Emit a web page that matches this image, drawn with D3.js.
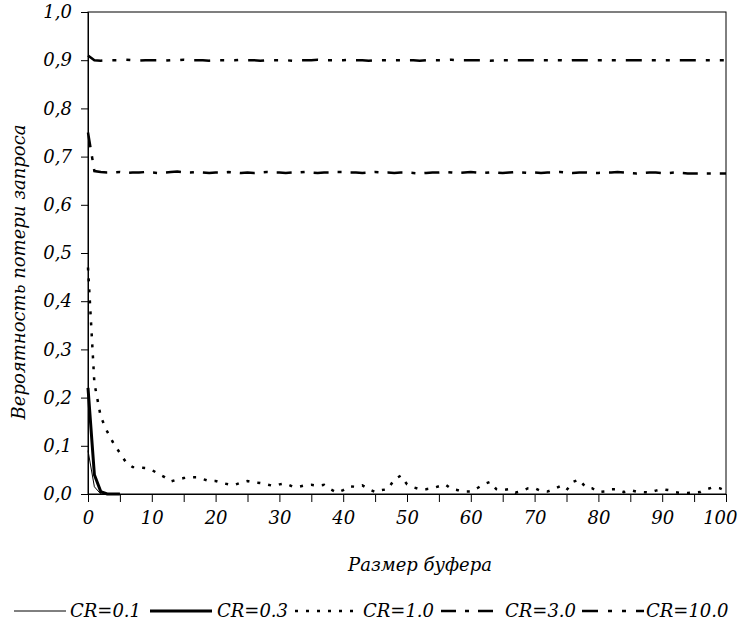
<!DOCTYPE html>
<html>
<head>
<meta charset="utf-8">
<script src="https://d3js.org/d3.v7.min.js"></script>
<style>
  body { margin: 0; background: #fff; }
  text { font-family: "DejaVu Serif", serif; font-style: italic; fill: #000; }
</style>
</head>
<body>
<div id="chart"></div>
<script>
// Buffer sizes on the x axis
var bufferSize = d3.range(0, 101);

// Loss probability per series
var cr01 = [0.09, 0.015, 0.0, 0.0, 0.0, 0.0];
var cr03 = [0.22, 0.04, 0.005, 0.0, 0.0, 0.0];
var cr10 = [0.47, 0.23, 0.16, 0.13, 0.105, 0.085, 0.065, 0.056, 0.055, 0.054,
  0.05, 0.042, 0.035, 0.026, 0.03, 0.033, 0.035, 0.035, 0.031, 0.027,
  0.027, 0.023, 0.02, 0.019, 0.024, 0.027, 0.024, 0.023, 0.02, 0.017,
  0.02, 0.022, 0.016, 0.015, 0.018, 0.019, 0.017, 0.019, 0.01, 0.003,
  0.008, 0.016, 0.015, 0.018, 0.01, 0.004, 0.008, 0.01, 0.03, 0.038,
  0.02, 0.014, 0.01, 0.01, 0.012, 0.016, 0.02, 0.01, 0.008, 0.005,
  0.005, 0.012, 0.02, 0.025, 0.01, 0.008, 0.01, 0.003, 0.006, 0.012,
  0.012, 0.006, 0.005, 0.01, 0.016, 0.008, 0.025, 0.03, 0.014, 0.012,
  0.004, 0.005, 0.01, 0.01, 0.004, 0.008, 0.005, 0.004, 0.003, 0.007,
  0.01, 0.008, 0.004, 0.002, 0.002, 0.003, 0.004, 0.01, 0.014, 0.012, 0.006];
var cr30 = [0.75, 0.67, 0.668, 0.667, 0.667, 0.668, 0.666, 0.667, 0.667, 0.668,
  0.667, 0.666, 0.667, 0.668, 0.669, 0.667, 0.667, 0.668, 0.667, 0.666,
  0.667, 0.667, 0.668, 0.667, 0.666, 0.667, 0.666, 0.667, 0.668, 0.667,
  0.667, 0.666, 0.667, 0.667, 0.668, 0.667, 0.666, 0.667, 0.667, 0.668,
  0.668, 0.667, 0.667, 0.666, 0.667, 0.668, 0.667, 0.667, 0.666, 0.667,
  0.667, 0.666, 0.665, 0.666, 0.667, 0.667, 0.668, 0.667, 0.666, 0.667,
  0.668, 0.667, 0.666, 0.667, 0.667, 0.666, 0.667, 0.668, 0.667, 0.666,
  0.667, 0.666, 0.667, 0.667, 0.668, 0.667, 0.666, 0.667, 0.667, 0.666,
  0.666, 0.667, 0.667, 0.668, 0.667, 0.666, 0.665, 0.666, 0.667, 0.667,
  0.666, 0.666, 0.667, 0.666, 0.665, 0.665, 0.665, 0.665, 0.665, 0.665, 0.665];
var cr100 = [0.91, 0.9, 0.899, 0.9, 0.9, 0.9, 0.901, 0.9, 0.899, 0.9,
  0.9, 0.9, 0.899, 0.9, 0.9, 0.901, 0.9, 0.9, 0.9, 0.899,
  0.9, 0.9, 0.9, 0.9, 0.901, 0.9, 0.9, 0.899, 0.9, 0.9,
  0.9, 0.9, 0.899, 0.9, 0.9, 0.9, 0.901, 0.9, 0.9, 0.9,
  0.9, 0.901, 0.9, 0.9, 0.899, 0.9, 0.9, 0.9, 0.9, 0.9,
  0.9, 0.9, 0.899, 0.9, 0.9, 0.9, 0.9, 0.901, 0.9, 0.9,
  0.9, 0.9, 0.9, 0.899, 0.9, 0.9, 0.9, 0.9, 0.9, 0.9,
  0.9, 0.9, 0.9, 0.9, 0.9, 0.899, 0.9, 0.9, 0.9, 0.9,
  0.9, 0.9, 0.9, 0.9, 0.9, 0.9, 0.9, 0.9, 0.9, 0.9,
  0.9, 0.9, 0.9, 0.9, 0.9, 0.9, 0.9, 0.9, 0.9, 0.9, 0.9];

var seriesNames = ["CR=0.1", "CR=0.3", "CR=1.0", "CR=3.0", "CR=10.0"];
var seriesValues = [cr01, cr03, cr10, cr30, cr100];

var xTicks = d3.range(0, 101, 5);
var yTicks = [0, 0.1, 0.2, 0.3, 0.4, 0.5, 0.6, 0.7, 0.8, 0.9, 1.0];

// line styles for each series
var styles = [
  {w: 1, dash: null},
  {w: 3, dash: null},
  {w: 2.5, dash: "3,8"},
  {w: 2.5, dash: "15,9,4,9"},
  {w: 2.5, dash: "16,10,4,10,4,10"}
];

var svgWidth = 739;
var svgHeight = 632;
var margin = {top: 12, right: 13, bottom: 138, left: 88};
var width = svgWidth - margin.left - margin.right;
var height = svgHeight - margin.top - margin.bottom;
var fontSize = "18px";

var svg = d3.select("#chart")
  .append("svg")
  .attr("width", svgWidth)
  .attr("height", svgHeight);

var chartGroup = svg.append("g")
  .attr("transform", `translate(${margin.left}, ${margin.top})`);

// Scales
var xScale = d3.scaleLinear().domain([0, 100]).range([0, width]);
var yScale = d3.scaleLinear().domain([0, 1]).range([height, 0]);

// plot frame
chartGroup.append("rect")
  .attr("x", 0).attr("y", 0)
  .attr("width", width).attr("height", height)
  .attr("fill", "none").attr("stroke", "#000").attr("stroke-width", 1);

// Axes
var xAxis = d3.axisBottom(xScale)
  .tickValues(xTicks)
  .tickSize(8)
  .tickPadding(9)
  .tickFormat(d => d % 10 === 0 ? d : "");

var yAxis = d3.axisLeft(yScale)
  .tickValues(yTicks)
  .tickSize(7)
  .tickPadding(9)
  .tickFormat(d => d3.format(".1f")(d).replace(".", ","));

var gx = chartGroup.append("g")
  .attr("transform", `translate(0, ${height})`)
  .call(xAxis);

var gy = chartGroup.append("g")
  .call(yAxis);

[gx, gy].forEach(function(g) {
  g.select(".domain").attr("stroke", "#000");
  g.selectAll(".tick line").attr("stroke", "#000");
  g.selectAll(".tick text")
    .style("font-family", '"DejaVu Serif", serif')
    .style("font-style", "italic")
    .style("font-size", fontSize)
    .attr("fill", "#000");
});

// keep "100" inside the page: right-align it at the page edge
gx.selectAll(".tick text").filter(d => d === 100)
  .attr("text-anchor", "end")
  .attr("x", svgWidth - 2 - margin.left - xScale(100));

// Lines
var line = d3.line()
  .x((d, i) => xScale(bufferSize[i]))
  .y(d => yScale(d));

seriesValues.forEach(function(vals, k) {
  chartGroup.append("path")
    .datum(vals)
    .attr("d", line)
    .attr("fill", "none")
    .attr("stroke", "#000")
    .attr("stroke-width", styles[k].w)
    .attr("stroke-dasharray", styles[k].dash);
});

// Axis titles
svg.append("text")
  .attr("x", 420)
  .attr("y", 571)
  .attr("text-anchor", "middle")
  .style("font-size", fontSize)
  .text("Размер буфера");

svg.append("text")
  .attr("transform", "translate(25, 272) rotate(-90)")
  .attr("text-anchor", "middle")
  .style("font-size", fontSize)
  .text("Вероятность потери запроса");

// Legend
var legendLine = [[14, 66], [150, 212], [295, 356], [441, 502], [582, 644]];
var legendText = [70, 217, 363, 505, 646];
var legend = svg.append("g").attr("transform", "translate(0, 611)");
seriesNames.forEach(function(name, k) {
  legend.append("line")
    .attr("x1", legendLine[k][0]).attr("x2", legendLine[k][1])
    .attr("y1", 0).attr("y2", 0)
    .attr("stroke", "#000")
    .attr("stroke-width", styles[k].w)
    .attr("stroke-dasharray", styles[k].dash);
  legend.append("text")
    .attr("x", legendText[k])
    .attr("y", 6)
    .style("font-size", fontSize)
    .text(name);
});
</script>
</body>
</html>
